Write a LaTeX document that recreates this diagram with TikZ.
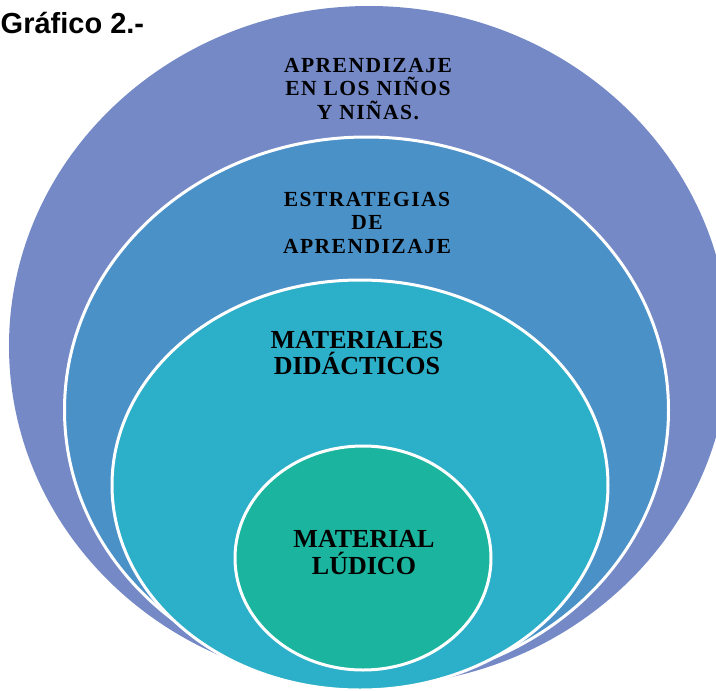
\documentclass[tikz,border=0pt]{standalone}
\usepackage{fontspec}
\setmainfont{Liberation Serif}
\newfontfamily\spacedserif[LetterSpace=7]{Liberation Serif}
\newfontfamily\titlesans{Liberation Sans}
\definecolor{ringA}{HTML}{7489C6}
\definecolor{ringB}{HTML}{4A91C8}
\definecolor{ringC}{HTML}{2CAFC8}
\definecolor{ringD}{HTML}{1BB49E}
\begin{document}
\begin{tikzpicture}[x=1pt,y=-1pt,
  ring/.style={draw=white,line width=3pt},
  lbl/.style={align=center,inner sep=0pt,text=black},
  smalllbl/.style={lbl,font=\spacedserif\bfseries\fontsize{21.5}{23.5}\selectfont},
  biglbl/.style={lbl,font=\bfseries\fontsize{26}{26.5}\selectfont}]
\useasboundingbox (0,0) rectangle (716,691);
\clip (0,0) rectangle (716,691);
\fill[ringA] (369,346) ellipse [x radius=360pt,y radius=340pt];
\filldraw[fill=ringB,ring] (366.5,410) ellipse [x radius=302pt,y radius=273pt];
\filldraw[fill=ringC,ring] (360,485) ellipse [x radius=248pt,y radius=205pt];
\filldraw[fill=ringD,ring] (363,558) ellipse [x radius=128pt,y radius=112pt];
\node[smalllbl] (t1) at (368,89) {APRENDIZAJE\\EN LOS NIÑOS\\Y NIÑAS.};
\node[smalllbl] (t2) at (367,222.5) {ESTRATEGIAS\\DE\\APRENDIZAJE};
\node[biglbl] (t3) at (357,353) {MATERIALES\\DIDÁCTICOS};
\node[biglbl,font=\bfseries\fontsize{26}{27}\selectfont] (t4) at (364,553) {MATERIAL\\LÚDICO};
\node[font=\titlesans\bfseries\fontsize{29}{36}\selectfont,anchor=base west,inner sep=0pt] (title) at (0.5,33) {Gráfico 2.-};
\end{tikzpicture}
\end{document}
